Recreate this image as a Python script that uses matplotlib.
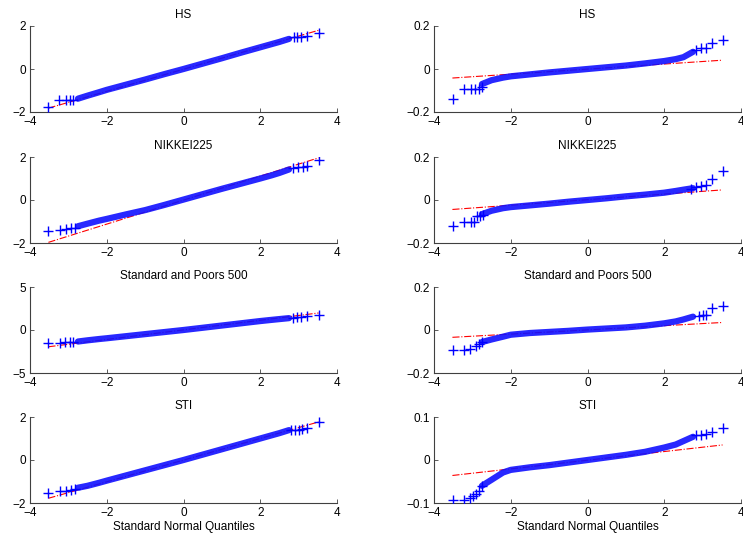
import numpy as np
import matplotlib
matplotlib.use("Agg")
import matplotlib.pyplot as plt

plt.rcParams['font.family'] = ['Liberation Sans', 'DejaVu Sans']
plt.rcParams['font.size'] = 8.5

# titles of the four indices (rows)
titles = ["HS", "NIKKEI225", "Standard and Poors 500", "STI"]

# theoretical quantiles where the dense part of each curve was read
body_q = [-2.75, -2.5, -2.2, -2.0, -1.5, -1.0, -0.5, 0.0, 0.5, 1.0, 1.5, 2.0, 2.3, 2.5, 2.75]

# left column (standardised sample) - dense part
hs_l_body = [-1.38, -1.24, -1.08, -0.97, -0.73, -0.49, -0.24, 0.0, 0.25, 0.5, 0.76, 1.01, 1.16, 1.26, 1.40]
nk_l_body = [-1.22, -1.10, -0.96, -0.88, -0.67, -0.47, -0.23, 0.02, 0.27, 0.52, 0.76, 1.0, 1.15, 1.26, 1.42]
sp_l_body = [-1.34, -1.20, -1.05, -0.96, -0.72, -0.48, -0.24, 0.0, 0.26, 0.52, 0.78, 1.04, 1.18, 1.27, 1.38]
st_l_body = [-1.29, -1.20, -1.06, -0.96, -0.72, -0.48, -0.24, 0.0, 0.25, 0.5, 0.75, 1.0, 1.15, 1.25, 1.39]

# right column (returns) - dense part
hs_r_body = [-0.070, -0.052, -0.040, -0.034, -0.025, -0.016, -0.008, 0.0, 0.008, 0.016, 0.026, 0.037, 0.046, 0.055, 0.080]
nk_r_body = [-0.066, -0.050, -0.038, -0.033, -0.025, -0.017, -0.008, 0.0, 0.008, 0.017, 0.025, 0.034, 0.042, 0.048, 0.055]
sp_r_body = [-0.056, -0.044, -0.031, -0.022, -0.014, -0.009, -0.004, 0.002, 0.007, 0.012, 0.020, 0.031, 0.040, 0.049, 0.062]
st_r_body = [-0.060, -0.046, -0.029, -0.023, -0.017, -0.012, -0.006, 0.0, 0.006, 0.012, 0.019, 0.029, 0.036, 0.044, 0.054]

# separate tail points (the visible + markers)
hs_l_tq = [-3.52, -3.24, -3.06, -2.97, -2.89, 2.88, 2.97, 3.07, 3.22, 3.52]
hs_l_ts = [-1.77, -1.45, -1.45, -1.45, -1.44, 1.47, 1.48, 1.50, 1.55, 1.69]
nk_l_tq = [-3.52, -3.22, -3.05, -2.93, -2.83, 2.86, 2.99, 3.12, 3.22, 3.52]
nk_l_ts = [-1.45, -1.39, -1.34, -1.31, -1.28, 1.47, 1.52, 1.55, 1.60, 1.88]
sp_l_tq = [-3.52, -3.22, -3.09, -2.97, -2.88, 2.86, 2.96, 3.07, 3.22, 3.52]
sp_l_ts = [-1.46, -1.46, -1.40, -1.38, -1.37, 1.44, 1.46, 1.47, 1.65, 1.73]
st_l_tq = [-3.52, -3.22, -3.05, -2.93, -2.83, 2.80, 2.90, 3.00, 3.08, 3.22, 3.52]
st_l_ts = [-1.53, -1.44, -1.43, -1.40, -1.35, 1.40, 1.41, 1.41, 1.42, 1.47, 1.75]

hs_r_tq = [-3.51, -3.23, -3.04, -2.92, -2.82, -2.75, 2.82, 2.95, 3.08, 3.24, 3.54]
hs_r_ts = [-0.141, -0.095, -0.095, -0.095, -0.093, -0.085, 0.089, 0.097, 0.097, 0.120, 0.133]
nk_r_tq = [-3.51, -3.21, -3.04, -2.95, -2.89, -2.80, -2.72, 2.69, 2.82, 2.95, 3.08, 3.24, 3.54]
nk_r_ts = [-0.122, -0.103, -0.103, -0.103, -0.075, -0.075, -0.072, 0.053, 0.061, 0.066, 0.072, 0.097, 0.134]
sp_r_tq = [-3.51, -3.21, -3.05, -2.91, -2.82, -2.75, 2.91, 3.00, 3.08, 3.25, 3.54]
sp_r_ts = [-0.094, -0.094, -0.089, -0.074, -0.065, -0.058, 0.066, 0.069, 0.069, 0.103, 0.111]
st_r_tq = [-3.51, -3.21, -3.06, -2.98, -2.91, -2.82, -2.75, 2.82, 2.95, 3.08, 3.24, 3.54]
st_r_ts = [-0.093, -0.092, -0.088, -0.083, -0.078, -0.072, -0.060, 0.057, 0.058, 0.060, 0.064, 0.075]

# reference lines (value at q = -3.52 and q = 3.52)
ref_x = [-3.52, 3.52]
hs_l_ref = [-1.82, 1.80]
nk_l_ref = [-1.97, 1.96]
sp_l_ref = [-1.95, 1.98]
st_l_ref = [-1.78, 1.77]
hs_r_ref = [-0.042, 0.041]
nk_r_ref = [-0.044, 0.047]
sp_r_ref = [-0.034, 0.035]
st_r_ref = [-0.036, 0.035]

left_yt = [[-2, 0, 2], [-2, 0, 2], [-5, 0, 5], [-2, 0, 2]]
right_yt = [[-0.2, 0, 0.2], [-0.2, 0, 0.2], [-0.2, 0, 0.2], [-0.1, 0, 0.1]]

left = [(hs_l_body, hs_l_tq, hs_l_ts, hs_l_ref), (nk_l_body, nk_l_tq, nk_l_ts, nk_l_ref),
        (sp_l_body, sp_l_tq, sp_l_ts, sp_l_ref), (st_l_body, st_l_tq, st_l_ts, st_l_ref)]
right = [(hs_r_body, hs_r_tq, hs_r_ts, hs_r_ref), (nk_r_body, nk_r_tq, nk_r_ts, nk_r_ref),
         (sp_r_body, sp_r_tq, sp_r_ts, sp_r_ref), (st_r_body, st_r_tq, st_r_ts, st_r_ref)]

fig = plt.figure(figsize=(7.43, 5.40), dpi=100)

# axes boxes in pixels (MATLAB subplot layout)
W, H = 743.0, 540.0
col_x = [30, 434]
row_top = [26, 157, 287, 417]
ax_w, ax_h = 307, 86


def draw(ax, body, tq, ts, ref, yt, title, last):
    ax.plot(ref_x, ref, '-.', color='red', lw=0.8, zorder=1)
    # dense middle of the sample looks like a thick band of overlapping +
    ax.plot(body_q, body, '-', color='#1010ff', lw=4.5, alpha=0.9,
            solid_capstyle='round', zorder=2)
    ax.plot(tq, ts, '+', color='blue', ms=6.5, mew=1.0, zorder=3)
    ax.set_xlim(-4, 4)
    ax.set_ylim(yt[0], yt[-1])
    ax.set_xticks([-4, -2, 0, 2, 4])
    ax.set_yticks(yt)
    ax.set_yticklabels([('%g' % v).replace('-', '\u2212') for v in yt])
    ax.spines['top'].set_visible(False)
    ax.spines['right'].set_visible(False)
    for s in ['left', 'bottom']:
        ax.spines[s].set_color('#404040')
        ax.spines[s].set_linewidth(0.8)
    ax.tick_params(direction='in', length=3, width=0.6, color='#404040',
                   labelsize=8.5, pad=3)
    ax.set_title(title, fontsize=8.5, pad=6)
    if last:
        ax.set_xlabel("Standard Normal Quantiles", fontsize=8.5, labelpad=1)


for i in range(4):
    bottom = 1 - (row_top[i] + ax_h) / H
    for j, (panel, yt) in enumerate([(left[i], left_yt[i]), (right[i], right_yt[i])]):
        ax = fig.add_axes([col_x[j] / W, bottom, ax_w / W, ax_h / H])
        body, tq, ts, ref = panel
        draw(ax, body, tq, ts, ref, yt, titles[i], i == 3)

fig.savefig("out.png", dpi=100)
